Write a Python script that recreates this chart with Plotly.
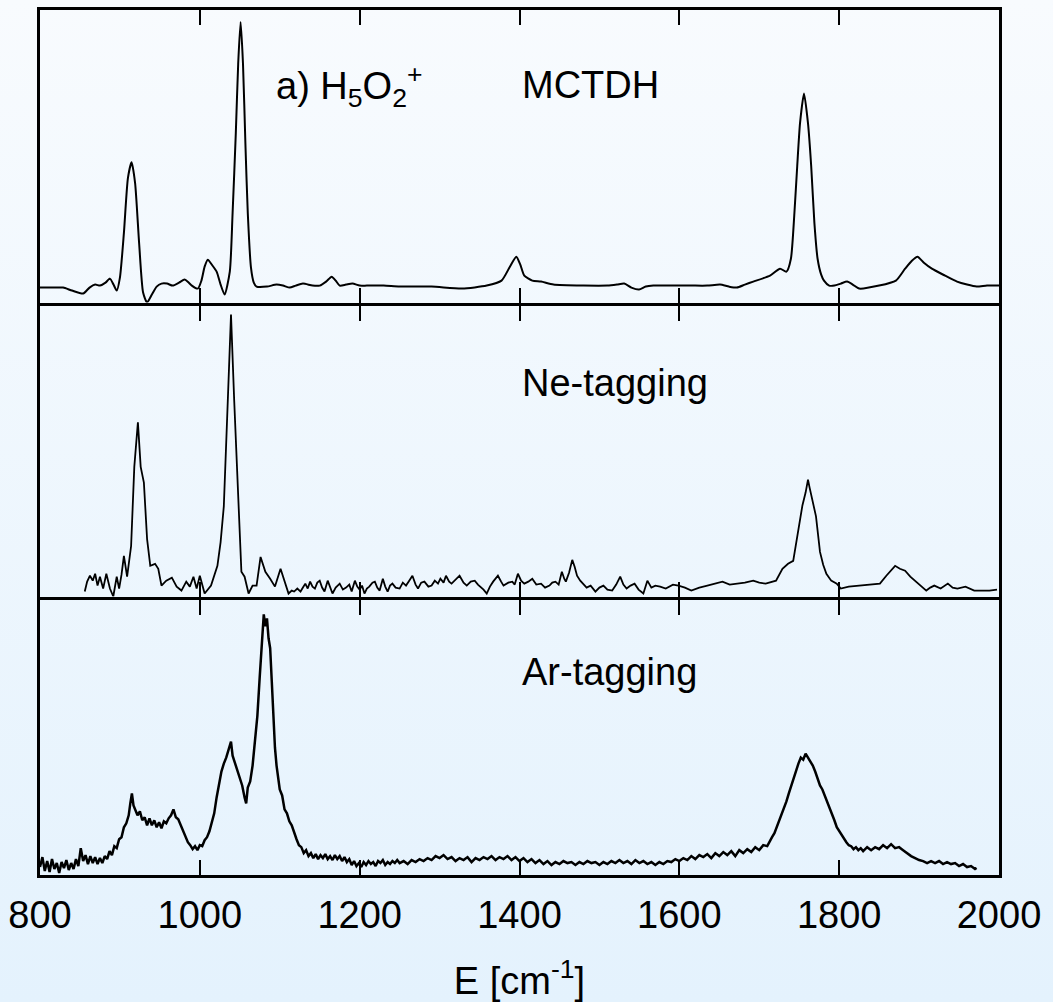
import base64
import plotly.graph_objects as go

# ---------------- data ----------------
# MCTDH computed spectrum (E in cm^-1, intensity arb. units)
mctdh_E = [800, 810, 820, 829, 840, 854, 862, 869, 875, 882, 887.5, 892, 896,
           900, 905, 910, 914.6, 919, 924, 929, 934, 940, 946, 952, 959, 966,
           974, 981, 986, 990, 997.5, 1002, 1006, 1010, 1015, 1021, 1026, 1031,
           1037.5, 1041, 1045, 1048, 1051, 1054, 1057, 1060, 1064, 1067.5, 1071,
           1084, 1096, 1104, 1112.5, 1120, 1129, 1141, 1150, 1158, 1165, 1170,
           1175, 1183, 1191, 1200, 1209, 1230, 1250, 1290, 1328, 1359, 1377.5,
           1388, 1396, 1401, 1406, 1416, 1427, 1442.5, 1480, 1510, 1522, 1531,
           1540, 1549.5, 1558, 1567.5, 1590, 1614.6, 1635, 1651, 1662, 1672,
           1682, 1692.5, 1713.5, 1726, 1734, 1739.6, 1744, 1747.5, 1751, 1756,
           1761, 1765, 1769, 1773, 1777.5, 1781, 1787.5, 1794, 1802, 1810, 1817,
           1825, 1850, 1871, 1882.5, 1891, 1898, 1906, 1916, 1932.5, 1947.5,
           1960, 1972, 1985, 2000]
mctdh_I = [15, 15, 15, 15, 12, 9, 15, 18, 17, 20, 24, 18, 12,
           25, 70, 125, 141, 120, 60, 10, 0, 8, 16, 19, 19, 17,
           20, 23, 20, 17, 14, 22, 36, 43, 38, 31, 18, 8,
           31, 90, 170, 240, 282, 240, 160, 90, 35, 20, 16,
           16, 18, 17, 15, 17, 19, 17, 17, 21, 26, 22,
           17, 18, 19, 17, 17, 17, 16, 16, 14, 17, 22,
           36, 46, 38, 27, 22, 21, 18, 17, 17, 18, 19,
           15, 13, 16, 17, 17, 17, 17, 18, 16, 15,
           18, 21, 27, 34, 31, 44, 90, 137, 180, 210,
           180, 137, 80, 44, 28, 22, 17, 17, 19, 21, 18,
           14, 17, 22, 34, 42, 46, 40, 34, 27, 21,
           18, 16, 17, 17]

# Ne-tagging experimental spectrum
ne_E = [856, 859, 862.5, 866, 869, 872, 875, 879, 883, 887.5, 891.7, 896, 899,
        902, 905, 909, 914, 918, 922.5, 926, 930, 934, 938, 944, 948, 952, 958,
        965, 971, 977, 983, 987.5, 992, 996, 1000, 1006, 1014, 1022, 1026, 1030,
        1035, 1039, 1043, 1047, 1052, 1056, 1061, 1066, 1071, 1076, 1082, 1088,
        1094, 1101, 1106, 1111, 1115, 1118, 1122, 1126, 1129, 1132, 1135, 1138,
        1141, 1144, 1147, 1150, 1153, 1156, 1160, 1163, 1166, 1170, 1175, 1179,
        1183, 1187, 1190, 1194, 1197, 1200, 1203, 1206, 1209, 1212, 1216, 1219,
        1222, 1225, 1229, 1232, 1235, 1238, 1241, 1245, 1250, 1254, 1258, 1262,
        1266, 1270, 1273, 1277, 1281, 1286, 1290, 1294, 1298, 1301, 1305, 1308,
        1312, 1315, 1320, 1325, 1330, 1334, 1339, 1344, 1348, 1351, 1355, 1359,
        1363, 1367, 1370, 1373, 1377, 1380, 1386, 1391, 1394, 1398, 1402, 1406,
        1411, 1416, 1421, 1427, 1432, 1437.5, 1441, 1445, 1449, 1453, 1456, 1458,
        1462, 1466, 1469, 1472, 1476, 1480, 1484, 1489, 1495, 1500, 1505, 1510,
        1516, 1521, 1526, 1530, 1534, 1539, 1544, 1549, 1555, 1560, 1565, 1570,
        1576, 1583, 1592, 1599, 1607, 1615, 1625, 1635, 1645, 1654, 1663, 1672,
        1682, 1692.5, 1700, 1708, 1715, 1721, 1729, 1736, 1742.5, 1746, 1750,
        1754, 1758, 1761, 1763, 1766, 1771, 1776, 1780, 1784, 1790, 1797, 1802,
        1812, 1823, 1837, 1851, 1859, 1865, 1870, 1876, 1882.5, 1889, 1896, 1902,
        1909, 1914, 1919, 1927, 1936, 1942, 1948, 1958, 1969, 1979, 1988, 1997.5]
ne_I = [5, 15, 21, 16, 23, 11, 20, 8, 23, 8, 0, 20, 8,
        22, 41, 20, 51, 131, 176, 131, 115, 58, 31, 33, 28, 11, 16,
        19, 10, 6, 15, 10, 20, 8, 21, 3, 11, 31, 55, 91,
        198, 285, 198, 115, 25, 20, 3, 11, 11, 40, 25, 18,
        10, 28, 15, 3, 6, 5, 8, 5, 9, 13, 8, 15,
        10, 8, 14, 16, 9, 5, 16, 10, 3, 9, 13, 7,
        9, 12, 5, 16, 10, 7, 11, 3, 8, 10, 14, 15,
        9, 6, 18, 10, 5, 11, 13, 9, 8, 14, 11, 16,
        21, 12, 8, 14, 15, 10, 11, 16, 13, 18, 14, 21,
        15, 13, 17, 21, 14, 11, 15, 16, 12, 10, 7, 3,
        10, 15, 18, 21, 15, 11, 14, 15, 12, 23, 16, 13,
        15, 18, 12, 13, 9, 11, 14, 15, 12, 25, 18, 15,
        24, 37, 30, 21, 16, 13, 9, 11, 5, 9, 11, 7,
        6, 12, 20, 12, 8, 11, 13, 7, 3, 16, 9, 11,
        10, 8, 12, 11, 9, 6, 9, 11, 13, 15, 12, 13,
        14, 16, 14, 13, 15, 16, 28, 33, 36, 52, 71,
        92, 105, 118, 110, 98, 81, 45, 32, 23, 16, 13, 8,
        10, 11, 12, 13, 21, 27, 31, 28, 26, 20, 15, 10,
        6, 9, 11, 8, 13, 9, 8, 10, 6, 6, 6, 7]

# Ar-tagging experimental spectrum
ar_E = [800, 803, 806, 809, 812, 815, 818, 821, 824, 827, 830, 833, 836, 839,
        842, 845, 848, 851, 854, 857, 860, 863, 866, 869, 872, 875, 878, 881,
        884, 887, 890, 893, 896, 899, 902, 905, 908, 911, 913, 915, 917, 919,
        922, 925, 928, 931, 934, 937, 940, 943, 946, 949, 952, 955, 958, 961,
        964, 967, 970, 973, 976, 979, 982, 985, 988, 991, 994, 997, 1000, 1003,
        1006, 1009, 1012, 1015, 1018, 1021, 1024, 1027, 1030, 1033, 1036, 1039,
        1041, 1044, 1047, 1050, 1053, 1056, 1058, 1060, 1063, 1066, 1069, 1072,
        1075, 1078, 1080, 1082, 1084, 1086, 1088, 1090, 1092, 1094, 1096, 1098,
        1100, 1103, 1106, 1109, 1112, 1115, 1118, 1121, 1124, 1127, 1130, 1133,
        1136, 1139, 1142, 1145, 1148, 1151, 1154, 1157, 1160, 1163, 1166, 1169,
        1172, 1175, 1178, 1181, 1184, 1187, 1190, 1193, 1196, 1199, 1202, 1205,
        1208, 1211, 1214, 1217, 1220, 1223, 1226, 1229, 1232, 1235, 1238, 1241,
        1244, 1247, 1250, 1255, 1260, 1265, 1270, 1275, 1280, 1285, 1290, 1295,
        1300, 1305, 1310, 1315, 1320, 1325, 1330, 1335, 1340, 1345, 1350, 1355,
        1360, 1365, 1370, 1375, 1380, 1385, 1390, 1395, 1400, 1405, 1410, 1415,
        1420, 1425, 1430, 1435, 1440, 1445, 1450, 1455, 1460, 1465, 1470, 1475,
        1480, 1485, 1490, 1495, 1500, 1505, 1510, 1515, 1520, 1525, 1530, 1535,
        1540, 1545, 1550, 1555, 1560, 1565, 1570, 1575, 1580, 1585, 1590, 1595,
        1600, 1605, 1610, 1615, 1620, 1625, 1630, 1635, 1640, 1645, 1650, 1655,
        1660, 1665, 1670, 1675, 1680, 1685, 1690, 1695, 1700, 1705, 1710, 1713,
        1716, 1719, 1722, 1725, 1728, 1731, 1734, 1737, 1740, 1743, 1746, 1749,
        1752, 1755, 1758, 1761, 1764, 1767, 1770, 1773, 1776, 1779, 1782, 1785,
        1788, 1791, 1794, 1797, 1800, 1803, 1806, 1809, 1812, 1815, 1818, 1821,
        1824, 1827, 1830, 1835, 1840, 1845, 1850, 1855, 1860, 1865, 1870, 1875,
        1880, 1885, 1890, 1895, 1900, 1905, 1910, 1915, 1920, 1925, 1930, 1935,
        1940, 1945, 1950, 1955, 1960, 1965, 1970, 1972]
ar_I = [8, 18, 4, 14, 3, 16, 6, 12, 2, 13, 7, 15, 5, 12,
        6, 16, 9, 27, 14, 20, 11, 19, 12, 18, 11, 17, 12, 19,
        16, 24, 20, 29, 27, 36, 38, 48, 52, 60, 72, 82, 70, 66,
        60, 64, 55, 58, 50, 57, 50, 55, 48, 53, 47, 54, 52, 57,
        60, 66, 58, 56, 50, 46, 38, 33, 30, 26, 29, 25, 30, 29,
        35, 38, 44, 52, 62, 78, 92, 104, 112, 118, 126, 134,
        120, 112, 104, 96, 90, 78, 72, 88, 94, 110, 132, 160,
        200, 232, 262, 250, 258, 238, 228, 195, 160, 128, 110, 96,
        86, 80, 66, 62, 54, 50, 42, 36, 30, 28, 22, 25,
        19, 22, 17, 21, 16, 20, 17, 21, 16, 19, 15, 20,
        16, 19, 14, 18, 13, 16, 10, 14, 9, 12, 8, 13,
        10, 14, 11, 13, 9, 14, 12, 15, 10, 13, 11, 14,
        12, 15, 12, 14, 11, 15, 13, 16, 14, 17, 15, 19,
        17, 20, 16, 18, 14, 17, 15, 18, 13, 17, 15, 18,
        16, 19, 15, 18, 16, 19, 15, 18, 14, 17, 13, 16,
        12, 15, 11, 14, 10, 13, 11, 14, 12, 13, 10, 13,
        11, 14, 12, 13, 10, 13, 11, 14, 12, 15, 12, 14,
        11, 15, 12, 14, 11, 13, 10, 13, 11, 14, 13, 16,
        14, 17, 15, 19, 16, 20, 18, 21, 17, 22, 19, 23,
        20, 24, 19, 25, 22, 26, 23, 28, 25, 30, 29, 34,
        38, 42, 48, 54, 60, 68, 74, 82, 90, 98, 106, 112,
        118, 116, 122, 118, 114, 110, 104, 97, 90, 86, 80, 74,
        68, 61, 55, 48, 44, 40, 36, 33, 30, 29, 26, 28,
        25, 27, 24, 28, 25, 28, 26, 30, 27, 31, 27, 28,
        25, 22, 19, 17, 15, 14, 12, 14, 12, 14, 11, 13,
        11, 12, 9, 11, 8, 9, 6, 7]

panel_labels = ["MCTDH", "Ne-tagging", "Ar-tagging"]
title_label = "a) H<sub>5</sub>O<sub>2</sub><sup>+</sup>"
x_tick_vals = [800, 1000, 1200, 1400, 1600, 1800, 2000]
x_tick_text = ["800", "1000", "1200", "1400", "1600", "1800", "2000"]
inner_tick_vals = [1000, 1200, 1400, 1600, 1800]
x_title = "E [cm<sup>-1</sup>]"

# ---------------- figure ----------------
W, H = 1053, 1002
ML, MR, MT, MB = 40, 54, 10, 127
pw, ph = W - ML - MR, H - MT - MB
LW = 3
# panel pixel extents (top, bottom) from the top of the plotting region
panels_px = [(0, 294 - LW / 2), (294 + LW / 2, 588 - LW / 2), (588 + LW / 2, ph)]
heights = [294, 294, 277]

fig = go.Figure()
axis_names = ["", "2", "3"]
for i, (t, b) in enumerate(panels_px):
    dom = [1 - b / ph, 1 - t / ph]
    fig.layout["yaxis" + axis_names[i]] = dict(
        domain=dom, anchor="x" + axis_names[i], range=[0, heights[i]],
        showline=True, linewidth=LW, linecolor="#000000", mirror=True,
        ticks="", showticklabels=False, showgrid=False, zeroline=False,
        automargin=False)

FONT = "Liberation Sans, Arial, Helvetica, sans-serif"
for i in range(3):
    bottom = (i == 2)
    fig.layout["xaxis" + axis_names[i]] = dict(
        domain=[0, 1], anchor="y" + axis_names[i], range=[800, 2000],
        matches=None if i == 0 else "x", automargin=False,
        showline=True, linewidth=LW, linecolor="#000000", mirror="allticks",
        ticks="inside", ticklen=15, tickwidth=2, tickcolor="#000000",
        tickvals=x_tick_vals if bottom else inner_tick_vals,
        ticktext=x_tick_text if bottom else None,
        showticklabels=bottom, showgrid=False, zeroline=False,
        tickfont=dict(size=38, color="#000000", family=FONT))

fig.update_layout(xaxis3=dict(ticklabelstandoff=4,
                              title=dict(text=x_title, standoff=37,
                                         font=dict(size=38, color="#000000", family=FONT))))

fig.add_trace(go.Scatter(x=mctdh_E, y=mctdh_I, mode="lines", xaxis="x", yaxis="y",
                         line=dict(shape="spline", smoothing=0.6, color="#000000", width=2)))
fig.add_trace(go.Scatter(x=ne_E, y=ne_I, mode="lines", xaxis="x2", yaxis="y2",
                         line=dict(width=1.8, color="#000000")))
fig.add_trace(go.Scatter(x=ar_E, y=ar_I, mode="lines", xaxis="x3", yaxis="y3",
                         line=dict(width=2.5, color="#000000")))

ann_font = dict(size=38, color="#000000", family=FONT)
fig.add_annotation(x=1093, y=218, xref="x", yref="y", text=title_label, showarrow=False,
                   xanchor="left", yanchor="middle", font=ann_font)
fig.add_annotation(x=1400, y=219, xref="x", yref="y", text=panel_labels[0], showarrow=False,
                   xanchor="left", yanchor="middle", font=ann_font)
fig.add_annotation(x=1400, y=216, xref="x2", yref="y2", text=panel_labels[1], showarrow=False,
                   xanchor="left", yanchor="middle", font=ann_font)
fig.add_annotation(x=1400, y=204, xref="x3", yref="y3", text=panel_labels[2], showarrow=False,
                   xanchor="left", yanchor="middle", font=ann_font)

# background gradient
svg = ('<svg xmlns="http://www.w3.org/2000/svg" width="10" height="100" preserveAspectRatio="none">'
       '<defs><linearGradient id="g" x1="0" y1="0" x2="0" y2="1">'
       '<stop offset="0" stop-color="#f8fbfe"/><stop offset="1" stop-color="#e4f2fd"/>'
       '</linearGradient></defs><rect width="10" height="100" fill="url(#g)"/></svg>')
src = "data:image/svg+xml;base64," + base64.b64encode(svg.encode()).decode()
fig.add_layout_image(dict(source=src, xref="paper", yref="paper",
                          x=-ML / pw, y=1 + MT / ph, sizex=W / pw, sizey=H / ph,
                          xanchor="left", yanchor="top", sizing="stretch", layer="below"))

fig.update_layout(width=W, height=H, margin=dict(l=ML, r=MR, t=MT, b=MB, autoexpand=False),
                  paper_bgcolor="#eef6fd", plot_bgcolor="rgba(0,0,0,0)",
                  showlegend=False, font=dict(family=FONT, color="#000000"))

fig.write_html("out.html")
